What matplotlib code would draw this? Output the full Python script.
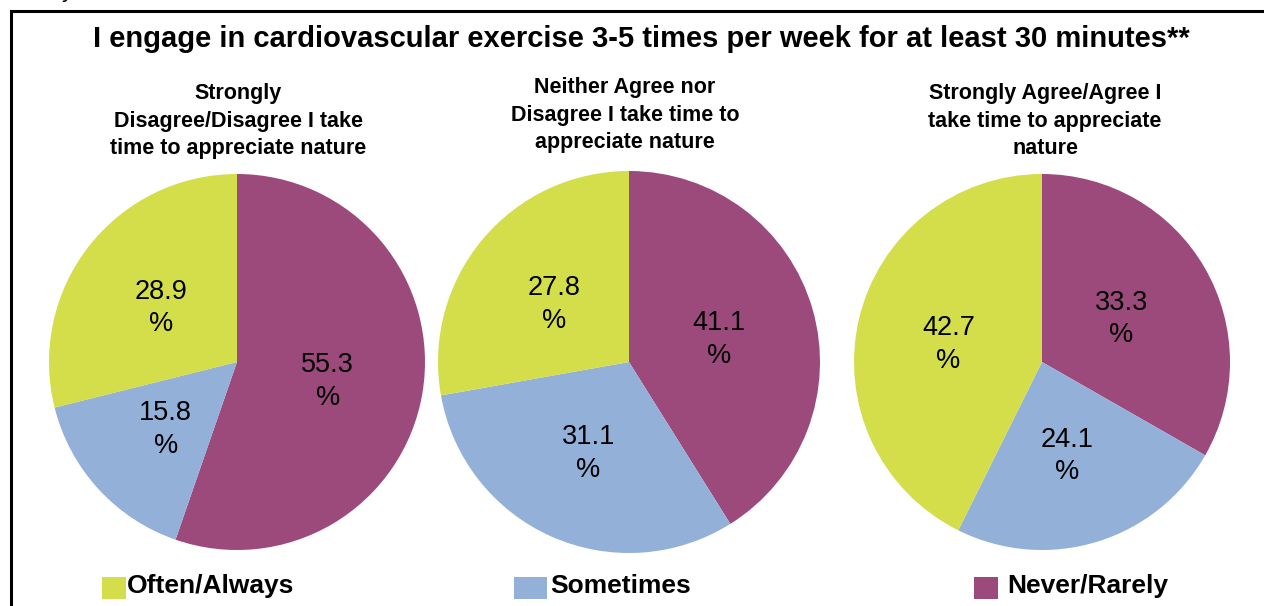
import matplotlib
matplotlib.use("Agg")
import matplotlib.pyplot as plt
import numpy as np

# ---- data ----
title = "I engage in cardiovascular exercise 3-5 times per week for at least 30 minutes**"
categories = ["Never/Rarely", "Sometimes", "Often/Always"]
legend_order = ["Often/Always", "Sometimes", "Never/Rarely"]
pie_titles = [
    "Strongly\nDisagree/Disagree I take\ntime to appreciate nature",
    "Neither Agree nor\nDisagree I take time to\nappreciate nature",
    "Strongly Agree/Agree I\ntake time to appreciate\nnature",
]
never_rarely = [55.3, 41.1, 33.3]
sometimes = [15.8, 31.1, 24.1]
often_always = [28.9, 27.8, 42.7]

colors = {"Never/Rarely": "#9C4A7C", "Sometimes": "#93B0D8", "Often/Always": "#D4DE4B"}

W, H = 1264, 606
plt.rcParams['font.family'] = ['Liberation Sans', 'DejaVu Sans']
fig = plt.figure(figsize=(W / 100, H / 100), dpi=100)
ax = fig.add_axes([0, 0, 1, 1])

def Y(y):
    return H - y

# border (open at right and bottom)
ax.plot([11, 11, W + 5], [Y(H + 5), Y(11), Y(11)], color='black', lw=2.2,
        solid_joinstyle='miter', clip_on=False)
# cut-off glyph from text above
ax.text(67, Y(-3), "y", fontsize=16, ha='center', va='baseline', color='black')

ax.text(641, Y(47), title, fontsize=21, fontweight='bold', ha='center', va='baseline')

centers = [(237, 362), (629, 362), (1042, 362)]
radii = [188, 191, 188]
title_pos = [(238, 121), (625, 115), (1045, 121)]

for i in range(3):
    vals = [never_rarely[i], sometimes[i], often_always[i]]
    cx, cy = centers[i]
    r = radii[i]
    wedges, _ = ax.pie(vals, colors=[colors[c] for c in categories], startangle=90,
                       counterclock=False, center=(cx, Y(cy)), radius=r,
                       wedgeprops=dict(linewidth=0), frame=True)
    for w, v in zip(wedges, vals):
        ang = np.deg2rad((w.theta1 + w.theta2) / 2)
        d = 0.5 * r
        ax.text(cx + d * np.cos(ang) - 2, Y(cy) + d * np.sin(ang) - 4, f"{v:.1f}\n%",
                fontsize=19.5, ha='center', va='center', linespacing=1.33)
    tx, ty = title_pos[i]
    ax.text(tx, Y(ty), pie_titles[i], fontsize=15.5, fontweight='bold',
            ha='center', va='center', linespacing=1.42)

ax.set_xlim(0, W)
ax.set_ylim(0, H)
ax.set_aspect('equal')
ax.axis('off')

# legend
leg_sq = [(102, 126), (514, 547), (974, 998)]
leg_tx = [127, 550, 1007]
for (x0, x1), tx, name in zip(leg_sq, leg_tx, legend_order):
    ax.add_patch(plt.Rectangle((x0, Y(599)), x1 - x0, 22, color=colors[name], lw=0))
    ax.text(tx, Y(593), name, fontsize=19, fontweight='bold', ha='left', va='baseline')

fig.savefig("out.png", dpi=100)
